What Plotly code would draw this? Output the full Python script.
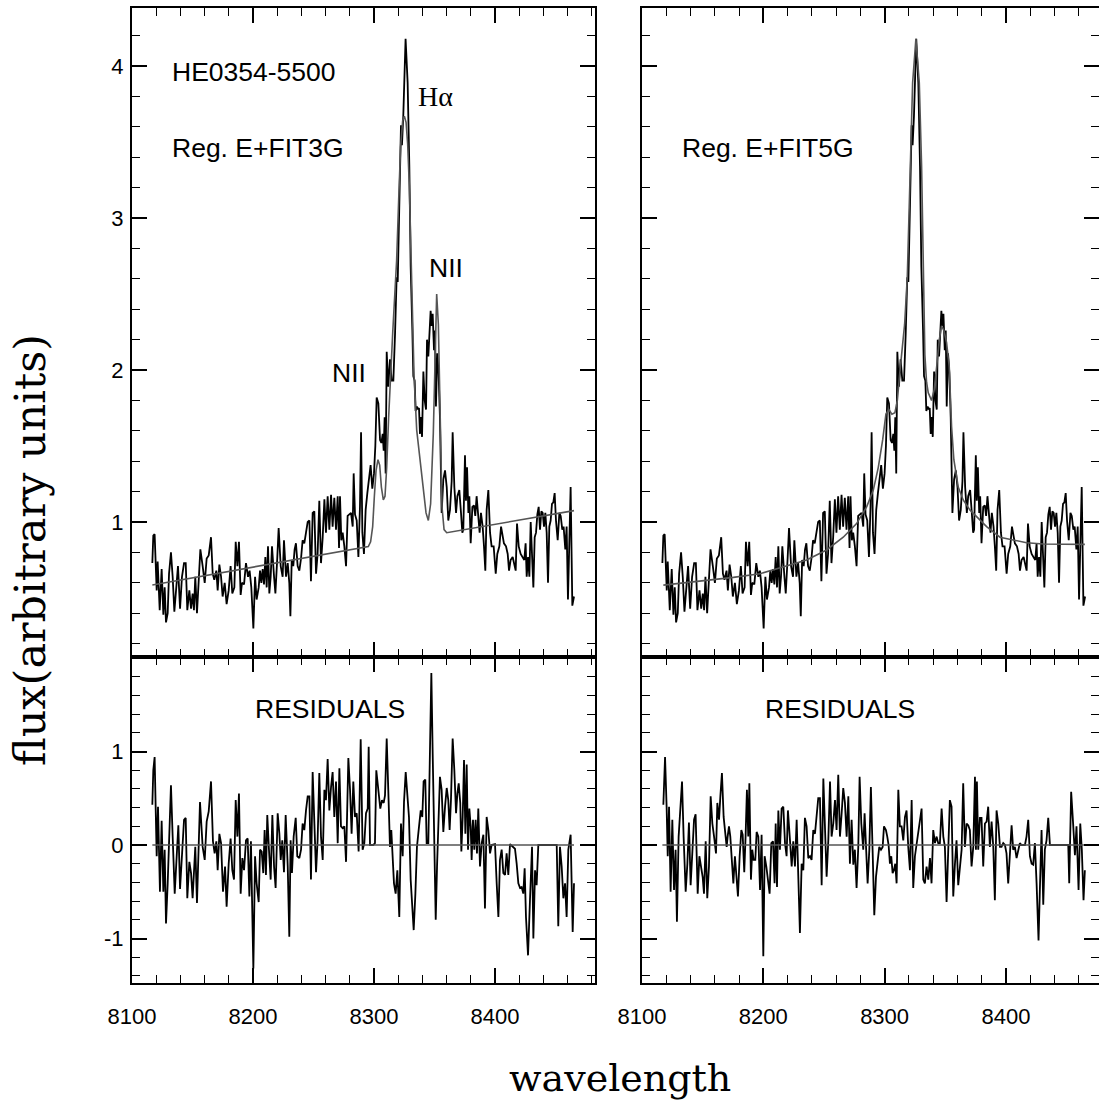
import plotly.graph_objects as go

# ---------------- data ----------------
spec_wl = [8116.8, 8117.6, 8118.7, 8120.4, 8121.2, 8122.9, 8124.5, 8125.9, 8127.0, 8128.1, 8129.5, 8130.6,
           8132.2, 8133.6, 8135.0, 8136.4, 8138.0, 8139.7, 8141.3, 8143.0, 8144.4, 8145.7, 8147.4, 8148.8,
           8150.1, 8151.2, 8152.3, 8153.7, 8155.1, 8156.5, 8158.4, 8160.1, 8161.7, 8163.4, 8165.3, 8166.7,
           8168.0, 8169.7, 8170.8, 8172.2, 8173.6, 8174.9, 8176.6, 8178.2, 8179.9, 8181.5, 8182.9, 8184.6,
           8185.7, 8187.1, 8188.4, 8189.8, 8190.9, 8192.6, 8194.2, 8195.9, 8197.2, 8198.6, 8200.3, 8201.7,
           8203.0, 8204.7, 8205.8, 8206.9, 8208.0, 8209.1, 8210.2, 8211.3, 8212.4, 8213.5, 8214.6, 8215.7,
           8217.4, 8218.5, 8220.1, 8221.2, 8222.9, 8224.5, 8225.6, 8227.3, 8228.7, 8230.0, 8230.9, 8232.0,
           8233.3, 8234.4, 8235.5, 8236.9, 8238.3, 8239.7, 8241.0, 8242.4, 8243.8, 8245.2, 8246.6, 8247.9,
           8249.3, 8250.7, 8252.1, 8253.4, 8254.8, 8256.2, 8257.6, 8259.0, 8260.3, 8261.7, 8263.1, 8264.5,
           8265.8, 8267.2, 8268.6, 8270.0, 8271.1, 8271.9, 8273.0, 8274.1, 8275.5, 8276.9, 8278.2, 8279.6,
           8281.0, 8282.4, 8283.2, 8284.3, 8285.7, 8287.1, 8288.4, 8289.3, 8290.4, 8291.7, 8293.1, 8294.5,
           8295.9, 8297.2, 8298.6, 8300.0, 8301.1, 8302.2, 8303.6, 8305.0, 8306.1, 8307.2, 8308.0, 8308.8,
           8309.6, 8310.5, 8311.8, 8313.2, 8314.6, 8316.0, 8317.4, 8318.7, 8319.6, 8320.4, 8321.5, 8322.3,
           8323.1, 8324.2, 8326.1, 8327.8, 8329.2, 8330.3, 8331.7, 8332.5, 8333.6, 8334.4, 8335.5, 8336.4,
           8337.2, 8338.0, 8338.8, 8339.7, 8340.8, 8341.9, 8343.0, 8343.8, 8344.9, 8345.7, 8346.8, 8347.7,
           8348.5, 8349.6, 8350.4, 8351.2, 8352.3, 8353.4, 8354.5, 8355.9, 8357.3, 8358.7, 8360.1, 8361.4,
           8362.8, 8364.2, 8365.0, 8366.4, 8367.8, 8368.9, 8370.5, 8371.9, 8373.0, 8373.8, 8375.2, 8376.0,
           8376.9, 8378.0, 8378.8, 8379.9, 8381.3, 8382.6, 8383.7, 8384.8, 8386.0, 8387.3, 8388.4, 8389.8,
           8390.9, 8392.0, 8393.1, 8394.5, 8395.9, 8397.2, 8398.9, 8400.6, 8401.9, 8403.6, 8405.0, 8406.1,
           8407.4, 8409.1, 8410.5, 8411.6, 8412.9, 8414.6, 8416.0, 8417.1, 8418.2, 8419.6, 8421.2, 8422.9,
           8424.2, 8425.3, 8426.2, 8427.3, 8428.4, 8429.5, 8430.6, 8431.7, 8432.8, 8433.9, 8435.0, 8436.1,
           8437.2, 8438.3, 8439.4, 8440.5, 8441.6, 8442.7, 8443.8, 8444.9, 8446.0, 8447.1, 8448.2, 8449.3,
           8450.4, 8451.8, 8453.2, 8454.3, 8455.6, 8456.7, 8458.1, 8459.2, 8460.3, 8461.4, 8462.5, 8463.9,
           8465.3]
spec_flux = [0.73, 0.91, 0.92, 0.55, 0.74, 0.42, 0.69, 0.39, 0.57, 0.34, 0.40, 0.66,
             0.80, 0.64, 0.41, 0.53, 0.71, 0.43, 0.64, 0.73, 0.73, 0.42, 0.55, 0.43,
             0.53, 0.42, 0.64, 0.40, 0.62, 0.82, 0.71, 0.60, 0.76, 0.78, 0.90, 0.66,
             0.62, 0.68, 0.55, 0.72, 0.64, 0.51, 0.60, 0.46, 0.55, 0.71, 0.53, 0.57,
             0.87, 0.71, 0.87, 0.52, 0.60, 0.59, 0.73, 0.64, 0.68, 0.57, 0.30, 0.64,
             0.49, 0.57, 0.68, 0.60, 0.69, 0.59, 0.77, 0.57, 0.84, 0.53, 0.64, 0.84,
             0.64, 0.53, 0.77, 0.96, 0.71, 0.64, 0.88, 0.64, 0.73, 0.60, 0.38, 0.75,
             0.71, 0.82, 0.86, 0.71, 0.68, 0.76, 0.88, 0.86, 0.93, 1.00, 1.01, 0.61,
             1.06, 1.07, 0.66, 0.79, 1.14, 0.73, 0.90, 1.15, 0.93, 1.17, 0.95, 1.18,
             0.97, 1.16, 0.95, 1.17, 0.83, 1.17, 0.88, 0.93, 0.84, 0.71, 1.04, 1.05,
             1.06, 0.97, 1.32, 1.05, 1.01, 0.77, 1.10, 1.59, 0.93, 0.79, 1.08, 1.19,
             1.30, 1.375, 1.22, 1.32, 1.50, 1.82, 1.78, 1.54, 1.52, 1.58, 1.47, 1.69,
             1.32, 2.12, 1.89, 2.07, 1.93, 1.93, 2.24, 2.61, 2.58, 2.90, 3.45, 3.61,
             3.48, 3.67, 4.18, 3.89, 3.34, 2.68, 2.26, 1.96, 1.93, 1.73, 1.76, 1.74,
             1.75, 1.58, 1.69, 1.56, 1.99, 1.80, 1.74, 2.20, 2.09, 2.21, 2.39, 2.29,
             2.37, 2.13, 2.26, 1.76, 2.11, 1.98, 1.69, 1.06, 1.28, 1.34, 1.23, 1.01,
             1.08, 1.27, 1.59, 1.23, 1.06, 1.17, 1.21, 1.06, 0.93, 0.95, 1.44, 1.14,
             1.36, 1.06, 1.17, 0.86, 1.10, 1.11, 1.04, 1.17, 1.04, 0.93, 1.06, 0.97,
             0.84, 0.68, 1.08, 1.21, 0.93, 0.84, 0.84, 0.66, 0.79, 0.84, 0.97, 0.93,
             0.86, 0.84, 0.79, 0.68, 0.75, 0.77, 0.71, 0.68, 0.99, 0.84, 0.79, 0.77,
             0.75, 0.86, 0.64, 0.77, 0.64, 1.00, 0.75, 0.57, 0.90, 0.93, 1.05, 1.10,
             0.95, 1.07, 1.06, 0.97, 1.06, 0.93, 0.60, 0.97, 1.01, 1.12, 1.13, 1.19,
             1.01, 0.88, 1.06, 1.04, 0.95, 0.97, 0.82, 0.97, 0.49, 0.88, 1.23, 0.45,
             0.51]

fit3_wl = [8116.8, 8295.3, 8297.2, 8298.9, 8300.3, 8301.7, 8303.3, 8304.7, 8306.1, 8307.7, 8309.1,
           8310.5, 8312.1, 8313.8, 8315.5, 8317.2, 8318.7, 8320.4, 8322.0, 8323.7, 8325.1, 8326.5,
           8327.8, 8329.2, 8330.6, 8332.0, 8333.1, 8335.3, 8338.0, 8340.8, 8343.0, 8344.9, 8346.8,
           8349.0, 8350.4, 8351.8, 8353.2, 8354.0, 8355.1, 8356.2, 8357.9, 8360.1, 8465.3]
fit3_flux = [0.586, 0.838, 0.87, 0.97, 1.17, 1.34, 1.41, 1.375, 1.23, 1.145, 1.17,
             1.36, 1.69, 2.00, 2.25, 2.50, 2.72, 3.12, 3.47, 3.64, 3.67, 3.63,
             3.49, 3.21, 2.79, 2.33, 1.96, 1.605, 1.41, 1.19, 1.06, 1.01, 1.12,
             1.58, 2.05, 2.50, 2.30, 2.02, 1.47, 1.10, 0.95, 0.93, 1.075]

fit5_wl = [8117.6, 8147.8, 8175.3, 8197.3, 8219.2, 8235.7, 8252.2, 8265.9, 8276.9, 8285.2, 8290.7,
           8294.8, 8298.4, 8301.1, 8303.5, 8306.0, 8308.5, 8310.5, 8312.5, 8314.5, 8316.5, 8318.7,
           8320.9, 8323.1, 8325.8, 8328.6, 8330.5, 8331.9, 8333.2, 8334.6, 8336.0, 8338.7, 8340.9,
           8342.9, 8345.1, 8347.0, 8348.9, 8351.1, 8353.3, 8355.2, 8357.1, 8360.7, 8364.8, 8370.3,
           8375.8, 8384.1, 8395.1, 8406.0, 8417.0, 8430.8, 8450.0, 8465.1]
fit5_flux = [0.585, 0.61, 0.636, 0.66, 0.71, 0.75, 0.816, 0.90, 0.99, 1.10, 1.21,
             1.36, 1.54, 1.71, 1.74, 1.71, 1.72, 1.80, 1.98, 2.15, 2.30, 2.61,
             3.34, 3.89, 4.18, 3.89, 3.34, 2.68, 2.10, 1.92, 1.85, 1.80, 1.87,
             2.02, 2.20, 2.29, 2.26, 2.18, 2.02, 1.63, 1.41, 1.23, 1.145, 1.08,
             1.035, 0.97, 0.90, 0.88, 0.864, 0.855, 0.853, 0.853]

res3_wl = [8116.8, 8117.6, 8118.7, 8120.4, 8121.5, 8123.1, 8124.5, 8125.9, 8127.0, 8128.1, 8129.5, 8130.9,
           8132.2, 8133.6, 8135.3, 8136.6, 8138.3, 8139.7, 8141.3, 8143.0, 8144.4, 8145.7, 8147.4, 8148.8,
           8150.1, 8151.2, 8152.3, 8153.7, 8155.1, 8156.2, 8158.4, 8160.1, 8161.7, 8163.4, 8165.3, 8166.9,
           8168.3, 8169.7, 8170.8, 8172.2, 8173.6, 8175.2, 8176.9, 8178.2, 8179.9, 8181.5, 8182.9, 8184.3,
           8185.7, 8187.1, 8188.4, 8189.8, 8191.2, 8192.6, 8194.2, 8195.6, 8197.0, 8198.3, 8200.3, 8201.7,
           8203.0, 8204.7, 8205.8, 8207.2, 8208.5, 8209.6, 8210.7, 8211.8, 8213.2, 8214.6, 8216.0, 8217.4,
           8218.7, 8220.4, 8221.8, 8222.9, 8224.2, 8225.6, 8227.0, 8228.7, 8230.0, 8231.1, 8232.2, 8233.6,
           8235.3, 8236.6, 8238.3, 8239.7, 8241.0, 8242.4, 8243.8, 8245.2, 8246.6, 8247.9, 8249.3, 8250.7,
           8252.1, 8253.4, 8254.8, 8256.2, 8257.6, 8259.0, 8260.3, 8261.7, 8263.1, 8264.5, 8265.8, 8267.2,
           8268.6, 8270.0, 8271.4, 8272.7, 8274.1, 8275.5, 8276.9, 8278.8, 8280.2, 8281.5, 8282.9, 8284.3,
           8285.7, 8287.3, 8289.0, 8290.6, 8292.0, 8293.4, 8294.8, 8295.6, 8296.7, 8299.4, 8300.8, 8301.9,
           8303.6, 8305.2, 8306.6, 8308.0, 8309.1, 8310.5, 8311.8, 8313.2, 8314.3, 8315.4, 8316.5, 8317.9,
           8319.3, 8320.9, 8322.3, 8323.7, 8324.8, 8326.2, 8327.5, 8328.9, 8330.3, 8331.7, 8332.8, 8334.2,
           8335.5, 8336.9, 8338.6, 8339.9, 8341.0, 8342.4, 8343.5, 8344.9, 8346.0, 8347.4, 8348.5, 8349.9,
           8351.0, 8352.1, 8353.2, 8354.5, 8355.9, 8357.3, 8358.7, 8360.1, 8361.4, 8362.5, 8363.6, 8365.0,
           8366.4, 8367.8, 8368.9, 8370.0, 8371.3, 8372.2, 8373.3, 8374.4, 8375.5, 8376.6, 8377.7, 8378.8,
           8379.9, 8380.7, 8381.8, 8382.9, 8384.0, 8385.1, 8386.2, 8387.6, 8389.0, 8390.4, 8391.7, 8393.1,
           8394.5, 8395.9, 8397.2, 8400.0, 8401.4, 8402.8, 8404.1, 8405.5, 8406.9, 8408.3, 8409.6, 8411.0,
           8412.4, 8415.2, 8416.5, 8417.9, 8419.3, 8420.7, 8422.0, 8423.4, 8424.5, 8425.6, 8427.3, 8428.9,
           8430.6, 8431.7, 8433.1, 8434.4, 8435.8, 8451.0, 8452.3, 8453.7, 8455.1, 8456.5, 8457.9, 8459.2,
           8460.6, 8462.5, 8464.2, 8465.3]
res3 = [0.43, 0.80, 0.94, -0.12, 0.41, -0.50, 0.26, -0.50, -0.05, -0.84, -0.41, 0.23,
        0.64, 0.09, -0.52, -0.20, 0.21, -0.47, -0.09, 0.27, 0.29, -0.57, -0.18, -0.30,
        -0.57, -0.20, -0.02, -0.62, -0.05, 0.46, -0.02, -0.16, 0.25, 0.36, 0.68, 0.04,
        -0.09, 0.04, -0.27, 0.12, 0.02, -0.50, -0.23, -0.66, -0.20, 0.07, -0.27, -0.37,
        0.48, 0.09, 0.55, -0.52, -0.14, -0.27, 0.05, 0.07, -0.55, 0.04, -1.32, -0.12,
        -0.41, -0.61, -0.05, -0.07, -0.30, 0.16, -0.32, 0.32, -0.05, -0.37, 0.32, -0.23,
        -0.46, 0.34, 0.12, -0.16, 0.05, -0.29, 0.32, -0.23, -0.98, 0.05, -0.30, 0.09,
        0.29, -0.12, -0.14, -0.05, 0.23, 0.16, 0.37, 0.52, 0.52, -0.37, 0.78, 0.30,
        -0.29, 0.05, 0.77, 0.09, -0.16, 0.59, 0.48, 0.92, 0.37, 0.62, 0.78, 0.30,
        0.68, 0.02, 0.82, 0.20, 0.18, 0.20, -0.18, 0.93, 0.59, 0.12, 0.68, 0.30,
        0.34, -0.07, 1.13, -0.05, 0.02, 0.34, 0.39, 1.05, 0.00, 0.00, 0.02, 0.80,
        0.59, 0.39, 0.48, 0.45, 0.53, 1.14, 0.59, -0.02, 0.16, -0.20, -0.41, -0.52,
        -0.27, -0.77, 0.23, -0.12, 0.46, 0.78, 0.59, 0.30, -0.37, -0.70, -0.91, -0.52,
        -0.02, 0.16, 0.37, 0.30, 0.68, 0.70, 0.02, 0.02, 1.02, 1.84, 0.98, -0.34,
        -0.80, -0.23, 0.23, 0.73, 0.59, 0.14, 0.41, 0.61, 0.48, 0.16, 0.48, 1.14,
        0.80, 0.34, 0.55, 0.66, 0.45, -0.07, 0.30, 0.91, 0.12, 0.86, -0.05, 0.39,
        0.20, -0.16, 0.27, -0.05, 0.27, -0.09, 0.39, -0.23, 0.02, 0.11, -0.68, 0.30,
        0.16, -0.09, 0.00, 0.01, -0.41, -0.77, -0.16, -0.05, -0.30, -0.32, -0.09, -0.32,
        0.01, -0.02, -0.04, -0.20, -0.41, -0.46, -0.45, -0.52, -0.25, -0.77, -1.18, -0.59,
        -0.02, -1.00, -0.27, -0.43, 0.00, 0.00, -0.87, -0.02, -0.23, -0.57, -0.41, -0.77,
        -0.05, 0.11, -0.93, -0.41]

res5_wl = [8117.6, 8119.0, 8120.3, 8121.2, 8122.3, 8123.6, 8125.0, 8126.4, 8127.7, 8128.8, 8130.2, 8131.6,
           8133.0, 8134.3, 8136.0, 8137.4, 8138.7, 8140.1, 8141.5, 8142.9, 8144.2, 8145.9, 8147.3, 8148.6,
           8150.0, 8151.1, 8152.5, 8153.8, 8155.2, 8156.6, 8158.0, 8159.6, 8161.0, 8162.1, 8163.5, 8164.6,
           8165.9, 8167.3, 8168.7, 8169.8, 8170.6, 8171.7, 8172.8, 8173.9, 8175.3, 8176.6, 8178.0, 8179.1,
           8180.5, 8181.9, 8183.0, 8184.3, 8185.4, 8186.5, 8187.6, 8188.5, 8189.8, 8190.9, 8192.0, 8193.4,
           8194.5, 8195.9, 8197.3, 8198.6, 8200.0, 8201.1, 8202.5, 8203.8, 8205.2, 8206.6, 8208.0, 8209.3,
           8210.2, 8211.3, 8212.4, 8213.7, 8215.1, 8216.5, 8217.9, 8219.2, 8220.3, 8222.0, 8223.4, 8224.7,
           8226.1, 8227.5, 8228.8, 8230.2, 8231.6, 8233.0, 8234.3, 8235.7, 8237.1, 8238.5, 8239.8, 8241.2,
           8242.6, 8244.0, 8245.3, 8246.7, 8248.1, 8249.5, 8250.8, 8252.2, 8253.6, 8255.0, 8256.3, 8257.7,
           8259.1, 8260.4, 8261.8, 8263.2, 8264.6, 8265.9, 8267.3, 8268.7, 8270.1, 8271.4, 8272.8, 8274.2,
           8275.5, 8276.9, 8278.3, 8279.4, 8280.8, 8282.4, 8283.5, 8284.6, 8286.0, 8287.4, 8288.7, 8290.1,
           8291.5, 8292.9, 8294.2, 8295.6, 8297.0, 8298.4, 8299.5, 8301.1, 8302.2, 8303.3, 8304.4, 8305.5,
           8306.6, 8307.7, 8308.8, 8309.9, 8311.3, 8312.6, 8314.0, 8315.4, 8316.8, 8318.1, 8319.5, 8320.9,
           8322.3, 8323.6, 8325.0, 8326.4, 8327.7, 8329.1, 8330.5, 8331.9, 8333.2, 8334.6, 8336.0, 8337.4,
           8338.7, 8340.1, 8341.5, 8342.9, 8344.2, 8345.6, 8347.0, 8348.4, 8349.7, 8351.1, 8352.5, 8353.8,
           8355.2, 8356.6, 8358.0, 8359.3, 8360.7, 8362.1, 8363.5, 8364.8, 8366.2, 8367.6, 8369.0, 8370.3,
           8371.7, 8373.1, 8374.5, 8375.3, 8376.1, 8377.2, 8378.6, 8379.9, 8381.3, 8382.7, 8384.1, 8385.4,
           8386.8, 8388.2, 8389.6, 8390.9, 8392.3, 8393.7, 8395.1, 8396.4, 8397.8, 8399.2, 8400.5, 8401.9,
           8403.3, 8404.7, 8406.0, 8407.4, 8408.8, 8410.2, 8411.5, 8412.9, 8415.7, 8417.0, 8418.4, 8419.8,
           8421.2, 8422.5, 8423.9, 8425.3, 8426.9, 8428.0, 8429.4, 8430.8, 8432.1, 8433.5, 8434.9, 8436.3,
           8451.4, 8452.2, 8453.8, 8455.5, 8456.9, 8458.2, 8459.9, 8461.3, 8462.6, 8464.0, 8465.1]
res5 = [0.43, 0.94, 0.41, -0.12, 0.41, -0.50, 0.27, -0.48, -0.05, -0.82, 0.09, 0.37,
        0.68, 0.09, -0.50, -0.20, 0.24, -0.43, -0.12, 0.27, 0.33, -0.52, -0.12, -0.23,
        -0.34, -0.52, 0.04, -0.57, -0.23, 0.52, 0.23, 0.07, -0.09, 0.45, 0.27, 0.52,
        0.77, 0.30, 0.09, -0.02, 0.09, 0.20, 0.09, -0.20, -0.41, -0.12, -0.37, -0.55,
        -0.12, 0.16, 0.11, -0.29, 0.09, 0.59, 0.09, 0.66, -0.37, -0.05, -0.16, -0.16,
        0.14, 0.09, -0.48, 0.11, -1.19, -0.12, -0.23, -0.41, -0.52, 0.02, 0.04, -0.41,
        0.23, -0.45, 0.37, -0.05, 0.39, 0.41, 0.02, -0.12, 0.37, 0.05, -0.23, 0.04,
        -0.23, 0.27, -0.37, -0.94, -0.20, -0.27, 0.29, 0.20, -0.14, -0.12, -0.16, 0.16,
        0.12, 0.34, 0.50, 0.50, -0.43, 0.71, 0.12, -0.34, 0.05, 0.68, 0.09, 0.23,
        0.48, 0.16, 0.75, 0.09, 0.34, 0.61, 0.45, 0.09, 0.52, -0.20, 0.27, -0.21,
        -0.05, -0.46, -0.02, 0.73, 0.23, -0.05, 0.34, -0.05, -0.41, -0.05, 0.62, -0.05,
        -0.75, -0.34, -0.20, -0.02, -0.05, -0.02, 0.20, 0.16, 0.09, 0.00, -0.20, -0.12,
        -0.30, -0.27, -0.20, -0.41, 0.59, 0.20, 0.20, 0.05, 0.30, 0.37, -0.02, -0.27,
        0.48, -0.46, -0.12, 0.02, 0.14, 0.27, 0.39, -0.37, -0.41, -0.23, -0.37, -0.14,
        -0.41, 0.16, 0.02, 0.09, 0.02, 0.02, 0.39, 0.09, -0.02, -0.61, -0.09, 0.48,
        0.41, -0.55, -0.20, 0.05, -0.43, -0.27, -0.05, 0.66, -0.02, 0.23, 0.21, 0.16,
        -0.23, -0.02, 0.73, -0.05, 0.68, -0.05, 0.29, 0.29, -0.23, 0.23, 0.25, 0.41,
        -0.02, 0.25, -0.02, -0.59, 0.37, 0.23, -0.02, -0.02, 0.02, 0.00, -0.09, -0.41,
        -0.12, 0.21, -0.05, -0.02, -0.14, -0.05, 0.02, 0.00, 0.00, 0.09, 0.27, -0.12,
        -0.20, -0.21, 0.02, -0.41, -1.02, -0.48, 0.16, -0.64, -0.05, 0.05, 0.29, 0.00,
        0.00, -0.41, 0.57, 0.21, -0.11, 0.20, -0.48, 0.23, -0.05, -0.59, -0.27]

zero_wl = [8116.8, 8465.3]
zero_val = [0.0, 0.0]

x_tick_vals = [8100, 8200, 8300, 8400]
top_y_ticks = [1, 2, 3, 4]
bot_y_ticks = [-1, 0, 1]
bot_y_text = ["-1", "0", "1"]

# ---------------- figure ----------------
W, H = 1099, 1105
BLACK = "#000000"
GRAY = "#555555"
SANS = "Liberation Sans"
SERIF = "DejaVu Serif"

fig = go.Figure()
fig.add_trace(go.Scatter(x=spec_wl, y=spec_flux, mode="lines", line=dict(color=BLACK, width=1.8),
                         xaxis="x", yaxis="y"))
fig.add_trace(go.Scatter(x=fit3_wl, y=fit3_flux, mode="lines", line=dict(color=GRAY, width=1.6),
                         xaxis="x", yaxis="y"))
fig.add_trace(go.Scatter(x=res3_wl, y=res3, mode="lines", line=dict(color=BLACK, width=1.8),
                         xaxis="x2", yaxis="y2"))
fig.add_trace(go.Scatter(x=zero_wl, y=zero_val, mode="lines", line=dict(color=GRAY, width=1.6),
                         xaxis="x2", yaxis="y2"))
fig.add_trace(go.Scatter(x=spec_wl, y=spec_flux, mode="lines", line=dict(color=BLACK, width=1.8),
                         xaxis="x3", yaxis="y3"))
fig.add_trace(go.Scatter(x=fit5_wl, y=fit5_flux, mode="lines", line=dict(color=GRAY, width=1.6),
                         xaxis="x3", yaxis="y3"))
fig.add_trace(go.Scatter(x=res5_wl, y=res5, mode="lines", line=dict(color=BLACK, width=1.8),
                         xaxis="x4", yaxis="y4"))
fig.add_trace(go.Scatter(x=zero_wl, y=zero_val, mode="lines", line=dict(color=GRAY, width=1.6),
                         xaxis="x4", yaxis="y4"))

def px_x(p):
    return p / W

def px_y(p):
    return (H - p) / H

L_DOM = [px_x(132), px_x(595)]
R_DOM = [px_x(642), 1.0]
TOP_DOM = [px_y(657), px_y(8)]
BOT_DOM = [px_y(983), px_y(657)]

axis_common = dict(showline=True, linecolor=BLACK, linewidth=2, mirror="ticks",
                   ticks="inside", ticklen=15, tickwidth=1.6, tickcolor=BLACK,
                   showgrid=False, zeroline=False, automargin=False,
                   tickfont=dict(family=SANS, size=22, color=BLACK))

def xax(domain, rng, anchor, labels):
    d = dict(axis_common)
    d.update(domain=domain, range=rng, anchor=anchor, tickmode="array", tickvals=x_tick_vals,
             showticklabels=labels, ticklabelstandoff=13,
             minor=dict(ticks="inside", ticklen=8, tickwidth=1.4, tickcolor=BLACK,
                        tickmode="linear", tick0=8100, dtick=20, showgrid=False))
    return d

def yax(domain, rng, anchor, vals, texts, labels):
    d = dict(axis_common)
    d.update(domain=domain, range=rng, anchor=anchor, tickmode="array", tickvals=vals,
             ticktext=texts, showticklabels=labels, ticklabelstandoff=2,
             minor=dict(ticks="inside", ticklen=8, tickwidth=1.4, tickcolor=BLACK,
                        tickmode="linear", tick0=0, dtick=0.2, showgrid=False))
    return d

L_RANGE = [8100, 8100 + (595 - 132) / 1.21]
R_RANGE = [8100, 8100 + (W - 642) / 1.213]
TOP_RANGE = [0.112, 4.382]
BOT_RANGE = [-1.476, 2.011]

fig.update_layout(
    template="none",
    width=W, height=H, margin=dict(l=0, r=0, t=0, b=0, autoexpand=False),
    paper_bgcolor="white", plot_bgcolor="white", showlegend=False,
    xaxis=xax(L_DOM, L_RANGE, "y", False),
    yaxis=yax(TOP_DOM, TOP_RANGE, "x", top_y_ticks, [str(v) for v in top_y_ticks], True),
    xaxis2=xax(L_DOM, L_RANGE, "y2", True),
    yaxis2=yax(BOT_DOM, BOT_RANGE, "x2", bot_y_ticks, bot_y_text, True),
    xaxis3=xax(R_DOM, R_RANGE, "y3", False),
    yaxis3=yax(TOP_DOM, TOP_RANGE, "x3", top_y_ticks, [str(v) for v in top_y_ticks], False),
    xaxis4=xax(R_DOM, R_RANGE, "y4", True),
    yaxis4=yax(BOT_DOM, BOT_RANGE, "x4", bot_y_ticks, bot_y_text, False),
)

sans_font = dict(family=SANS, size=26.5, color=BLACK)
ann = [
    dict(text="HE0354-5500", x=8131.4, y=3.96, xref="x", yref="y", xanchor="left", yanchor="middle", font=sans_font),
    dict(text="Reg. E+FIT3G", x=8131.4, y=3.46, xref="x", yref="y", xanchor="left", yanchor="middle", font=sans_font),
    dict(text="Hα", x=8334.7, y=3.80, xref="x", yref="y", xanchor="left", yanchor="middle",
         font=dict(family="Liberation Serif", size=28, color=BLACK)),
    dict(text="NII", x=8359.5, y=2.67, xref="x", yref="y", xanchor="center", yanchor="middle", font=sans_font),
    dict(text="NII", x=8279.3, y=1.98, xref="x", yref="y", xanchor="center", yanchor="middle", font=sans_font),
    dict(text="RESIDUALS", x=8263.6, y=1.455, xref="x2", yref="y2", xanchor="center", yanchor="middle", font=sans_font),
    dict(text="Reg. E+FIT5G", x=8131.3, y=3.46, xref="x3", yref="y3", xanchor="left", yanchor="middle", font=sans_font),
    dict(text="RESIDUALS", x=8263.2, y=1.455, xref="x4", yref="y4", xanchor="center", yanchor="middle", font=sans_font),
    dict(text="flux(arbitrary units)", x=px_x(30), y=px_y(550), xref="paper", yref="paper", textangle=-90,
         xanchor="center", yanchor="middle", font=dict(family=SERIF, size=43, color=BLACK)),
    dict(text="wavelength", x=px_x(620), y=px_y(1078), xref="paper", yref="paper",
         xanchor="center", yanchor="middle", font=dict(family=SERIF, size=38, color=BLACK)),
]
for a in ann:
    a["showarrow"] = False
fig.update_layout(annotations=ann)

fig.write_html("out.html")
